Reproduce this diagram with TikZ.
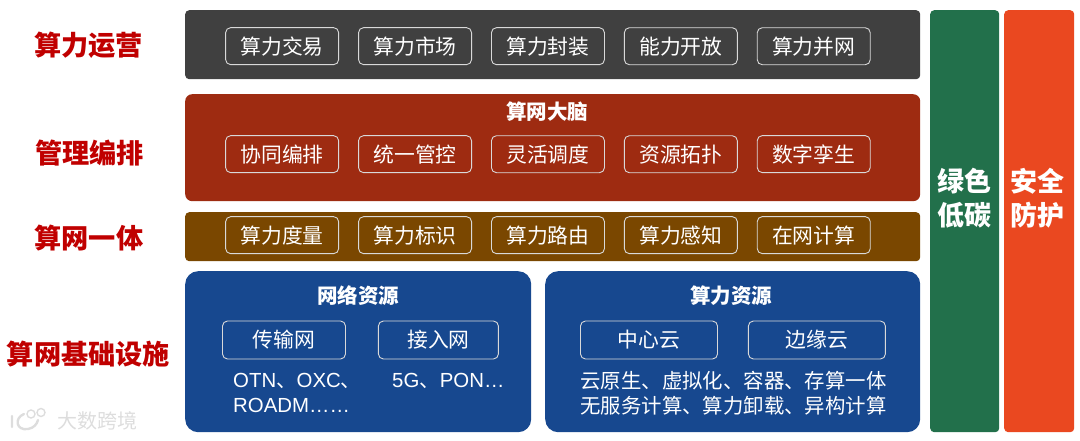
\documentclass[tikz,border=0pt]{standalone}
\usepackage{fontspec}
\setmainfont{Liberation Sans}
\newfontfamily\cjk{Noto Sans CJK SC}
\usetikzlibrary{positioning,matrix}
\definecolor{opsgray}{HTML}{404040}
\definecolor{brainred}{HTML}{9E2B11}
\definecolor{unitybrown}{HTML}{7A4700}
\definecolor{resblue}{HTML}{17488F}
\definecolor{lowgreen}{HTML}{22704B}
\definecolor{safeorange}{HTML}{EA4820}
\definecolor{labelred}{HTML}{C00000}
\definecolor{markgray}{HTML}{DDDDDD}
\tikzset{
  panel/.style 2 args={rectangle, anchor=north west, inner sep=0pt, fill=#1, rounded corners=#2},
  layer/.style={font=\fontsize{27.2}{28}\selectfont\cjk\bfseries, text=labelred, inner sep=0pt},
  chip/.style={rectangle, draw=white!85!black, line width=.9pt, rounded corners=5pt, text=white,
    minimum width=113pt, minimum height=37pt, inner sep=0pt, font=\fontsize{20.8}{21}\selectfont\cjk},
  title/.style={font=\fontsize{20.5}{21}\selectfont\cjk\bfseries, text=white, inner sep=0pt},
  body/.style={font=\fontsize{20.4}{25}\selectfont, text=white, inner sep=0pt, align=left},
  side/.style={font=\fontsize{27}{34}\selectfont\cjk\bfseries, text=white, inner sep=0pt, align=center}}
\begin{document}
\begin{tikzpicture}[x=1pt,y=-1pt]
\useasboundingbox (0,0) rectangle (1080,441);

% layer panels
\node[panel={opsgray}{4pt}, minimum width=735pt, minimum height=69pt] (ops) at (185,10) {};
\node[panel={brainred}{7pt}, minimum width=735pt, minimum height=107pt] (brain) at (185,94) {};
\node[panel={unitybrown}{4pt}, minimum width=735pt, minimum height=49pt] (unity) at (185,212) {};
\node[panel={resblue}{13pt}, minimum width=346pt, minimum height=161pt] (net) at (185,271) {};
\node[panel={resblue}{13pt}, minimum width=375pt, minimum height=161pt] (comp) at (545,271) {};
\node[panel={lowgreen}{4pt}, minimum width=69pt, minimum height=422pt] (green) at (930,10) {};
\node[panel={safeorange}{4pt}, minimum width=70pt, minimum height=422pt] (safe) at (1004,10) {};

% layer names
\node[layer] (l1) at (88.5,45) {算力运营};
\node[layer] (l2) at (89.5,153) {管理编排};
\node[layer] (l3) at (89,238) {算网一体};
\node[layer] (l4) at (88.5,354) {算网基础设施};

% chips of the three upper layers
\matrix[
  matrix of nodes,
  nodes=chip,
  inner sep=0pt,
  column sep=19pt,
  row sep=0pt,
  anchor=north west
] (m) at (225,27) {
算力交易 & 算力市场 & 算力封装 & 能力开放 & 算力并网 \\[70pt]
协同编排 & 统一管控 & 灵活调度 & 资源拓扑 & 数字孪生 \\[43pt]
算力度量 & 算力标识 & 算力路由 & 算力感知 & 在网计算 \\
};

\node[title] (braint) at (547,112) {算网大脑};
\node[title] (nett) at (358,296) {网络资源};
\node[title] (compt) at (731,296) {算力资源};

% network resources
\node[chip, minimum width=123pt, minimum height=38pt] (trans) at (284,340) {传输网};
\node[chip, minimum width=120pt, minimum height=38pt, right=32pt of trans] (access) {接入网};
\node[body, anchor=north west] (transb) at (233,373) {OTN{\cjk 、}OXC{\cjk 、}\\ROADM……};
\node[body, anchor=north west] (accessb) at (392,373) {5G{\cjk 、}PON…};

% compute resources
\node[chip, minimum width=137pt, minimum height=38pt] (center) at (649,340) {中心云};
\node[chip, minimum width=137pt, minimum height=38pt, right=30pt of center] (edge) {边缘云};
\node[body, anchor=north, font=\fontsize{20.4}{25}\selectfont\cjk] (compb) at (733.5,371) {云原生、虚拟化、容器、存算一体\\无服务计算、算力卸载、异构计算};

% side bars
\node[side] (greent) at (964,198) {绿色\\低碳};
\node[side] (safet) at (1037,198) {安全\\防护};

% watermark
\node[font=\fontsize{20}{20}\selectfont\cjk, text=markgray, inner sep=0pt] (mark) at (97,421) {大数跨境};
\draw[markgray, line width=2.4pt, line cap=round] (12,416) -- (12,427)
  (24,414) .. controls (14,418) and (16,431) .. (28,429) .. controls (34,428) and (37,424) .. (38,420);
\draw[markgray, line width=1.4pt]
  (31,414) circle[radius=4pt] (41,412.5) circle[radius=4pt];
\end{tikzpicture}
\end{document}
